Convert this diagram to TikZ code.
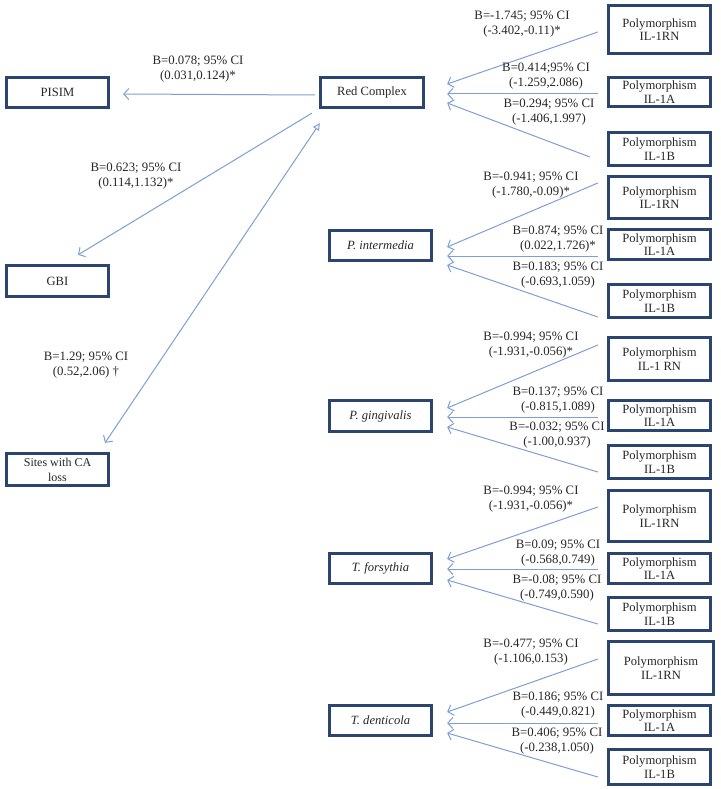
\documentclass[tikz,border=0pt]{standalone}
\usepackage{fontspec}
\setmainfont{Liberation Serif}
\usetikzlibrary{arrows.meta,positioning,calc}
\definecolor{boxNavy}{HTML}{2B4570}
\definecolor{linkBlue}{HTML}{7E9FD3}
\definecolor{labelInk}{HTML}{262626}

\tikzset{
  varbox/.style={draw=boxNavy, line width=2.8pt, minimum width=102.5pt, inner sep=1pt,
    align=center, text=labelInk, font=\fontsize{12.6}{13.5}\selectfont},
  coef/.style={align=center, text=labelInk, inner sep=0pt, font=\fontsize{12.8}{14.5}\selectfont},
  link/.style={draw=linkBlue, line width=1pt, -{Straight Barb[length=5pt,width=11pt]}},
}

\begin{document}
\begin{tikzpicture}[x=1pt, y=-1pt]
    \useasboundingbox (0,0) rectangle (720,789);
    % outcomes
    \node[varbox, minimum height=30.5pt] (pisim) at (57.5,92.5) {PISIM};
    \node[varbox, minimum height=31.5pt] (gbi) at (57.5,281) {GBI};
    \node[varbox, minimum height=32.5pt, font=\fontsize{12}{15}\selectfont] (sites) at (57.5,469.5) {Sites with CA\\loss};
    % bacteria
    \node[varbox, minimum height=30.5pt] (red) at (372,92.5) {Red Complex};
    \node[varbox, minimum height=30.5pt] (pint) at (380.5,245.5) {\textit{P. intermedia}};
    \node[varbox, minimum height=31.5pt] (pgin) at (380.5,416) {\textit{P. gingivalis}};
    \node[varbox, minimum height=30.5pt] (tfor) at (380.5,568.5) {\textit{T. forsythia}};
    \node[varbox, minimum height=30.5pt] (tden) at (380.5,720.5) {\textit{T. denticola}};
    % polymorphisms
    \node[varbox, minimum height=48.5pt] (rn1) at (659.5,29.5) {Polymorphism\\IL-1RN};
    \node[varbox, minimum height=29.5pt] (a1) at (659.5,92) {Polymorphism\\IL-1A};
    \node[varbox, minimum height=33.5pt] (b1) at (659.5,149) {Polymorphism\\IL-1B};
    \node[varbox, minimum height=42.5pt] (rn2) at (659.5,197.5) {Polymorphism\\IL-1RN};
    \node[varbox, minimum height=30.5pt] (a2) at (659.5,244.5) {Polymorphism\\IL-1A};
    \node[varbox, minimum height=33.5pt] (b2) at (659.5,301) {Polymorphism\\IL-1B};
    \node[varbox, minimum height=43.5pt] (rn3) at (659.5,359) {Polymorphism\\IL-1 RN};
    \node[varbox, minimum height=30.5pt] (a3) at (659.5,415.5) {Polymorphism\\IL-1A};
    \node[varbox, minimum height=33.5pt] (b3) at (659.5,462) {Polymorphism\\IL-1B};
    \node[varbox, minimum height=51.5pt] (rn4) at (659.5,516) {Polymorphism\\IL-1RN};
    \node[varbox, minimum height=30.5pt] (a4) at (659.5,568.5) {Polymorphism\\IL-1A};
    \node[varbox, minimum height=33.5pt] (b4) at (659.5,614) {Polymorphism\\IL-1B};
    \node[varbox, minimum height=53.5pt, minimum width=105.5pt] (rn5) at (661,668) {Polymorphism\\IL-1RN};
    \node[varbox, minimum height=30.5pt] (a5) at (659.5,720.5) {Polymorphism\\IL-1A};
    \node[varbox, minimum height=35.5pt] (b5) at (659.5,767) {Polymorphism\\IL-1B};

    % red complex to outcomes
    \draw[link] ($(red.west)+(-4.5,2.5)$) -- ($(pisim.east)+(13,1.5)$);
    \draw[link] ($(red.south west)+(-7.5,4)$) -- ($(gbi.north)+(20.5,-9)$);
    \draw[link, {Triangle[open,length=7pt,width=7pt]}-{Straight Barb[length=5pt,width=11pt]}]
      ($(red.south west)+(0.5,14)$) -- ($(sites.north)+(47.5,-9)$);
    \node[coef] (lpisim) at (198,69) {B=0.078; 95\% CI\\(0.031,0.124)*};
    \node[coef] (lgbi) at (136,176) {B=0.623; 95\% CI\\(0.114,1.132)*};
    \node[coef] (lsites) at (86,365) {B=1.29; 95\% CI\\(0.52,2.06) †};

    % polymorphisms to red complex
    \draw[link] ($(rn1.west)+(-9,2.5)$) -- ($(red.east)+(22.5,-8.5)$);
    \draw[link] ($(a1.west)+(-9,2)$) -- ($(red.east)+(22.5,1.5)$);
    \draw[link] ($(b1.west)+(-17,8)$) -- ($(red.east)+(22.5,10.5)$);
    \node[coef] (lrn1) at (522,24) {B=-1.745; 95\% CI\\(-3.402,-0.11)*};
    \node[coef] (la1) at (546,76) {B=0.414;95\% CI\\(-1.259,2.086)};
    \node[coef] (lb1) at (549,112) {B=0.294; 95\% CI\\(-1.406,1.997)};

    % polymorphisms to P. intermedia
    \draw[link] ($(rn2.west)+(-9,-14.5)$) -- ($(pint.east)+(14,1.5)$);
    \draw[link] ($(a2.west)+(-9,11.5)$) -- ($(pint.east)+(14,10.5)$);
    \draw[link] ($(b2.west)+(-9,16)$) -- ($(pint.east)+(14,19.5)$);
    \node[coef] (lrn2) at (531,185) {B=-0.941; 95\% CI\\(-1.780,-0.09)*};
    \node[coef] (la2) at (558,239) {B=0.874; 95\% CI\\(0.022,1.726)*};
    \node[coef] (lb2) at (558,275) {B=0.183; 95\% CI\\(-0.693,1.059)};

    % polymorphisms to P. gingivalis
    \draw[link] ($(rn3.west)+(-9,-14)$) -- ($(pgin.east)+(14,-8)$);
    \draw[link] ($(a3.west)+(-9,1.5)$) -- ($(pgin.east)+(14,1)$);
    \draw[link] ($(b3.west)+(-9,10)$) -- ($(pgin.east)+(14,11)$);
    \node[coef] (lrn3) at (531,345) {B=-0.994; 95\% CI\\(-1.931,-0.056)*};
    \node[coef] (la3) at (558,400) {B=0.137; 95\% CI\\(-0.815,1.089)};
    \node[coef] (lb3) at (557,435) {B=-0.032; 95\% CI\\(-1.00,0.937)};

    % polymorphisms to T. forsythia
    \draw[link] ($(rn4.west)+(-9,-9)$) -- ($(tfor.east)+(14,-9.5)$);
    \draw[link] ($(a4.west)+(-9,0.5)$) -- ($(tfor.east)+(14,0.5)$);
    \draw[link] ($(b4.west)+(-9,10)$) -- ($(tfor.east)+(14,11.5)$);
    \node[coef] (lrn4) at (531,499) {B=-0.994; 95\% CI\\(-1.931,-0.056)*};
    \node[coef] (la4) at (558,553) {B=0.09; 95\% CI\\(-0.568,0.749)};
    \node[coef] (lb4) at (557,588) {B=-0.08; 95\% CI\\(-0.749,0.590)};

    % polymorphisms to T. denticola
    \draw[link] ($(rn5.west)+(-9,-9)$) -- ($(tden.east)+(14,-8.5)$);
    \draw[link] ($(a5.west)+(-9,2.5)$) -- ($(tden.east)+(14,2.5)$);
    \draw[link] ($(b5.west)+(-9,10)$) -- ($(tden.east)+(14,12.5)$);
    \node[coef] (lrn5) at (531,652) {B=-0.477; 95\% CI\\(-1.106,0.153)};
    \node[coef] (la5) at (558,705) {B=0.186; 95\% CI\\(-0.449,0.821)};
    \node[coef] (lb5) at (557,741) {B=0.406; 95\% CI\\(-0.238,1.050)};
  \end{tikzpicture}
\end{document}
